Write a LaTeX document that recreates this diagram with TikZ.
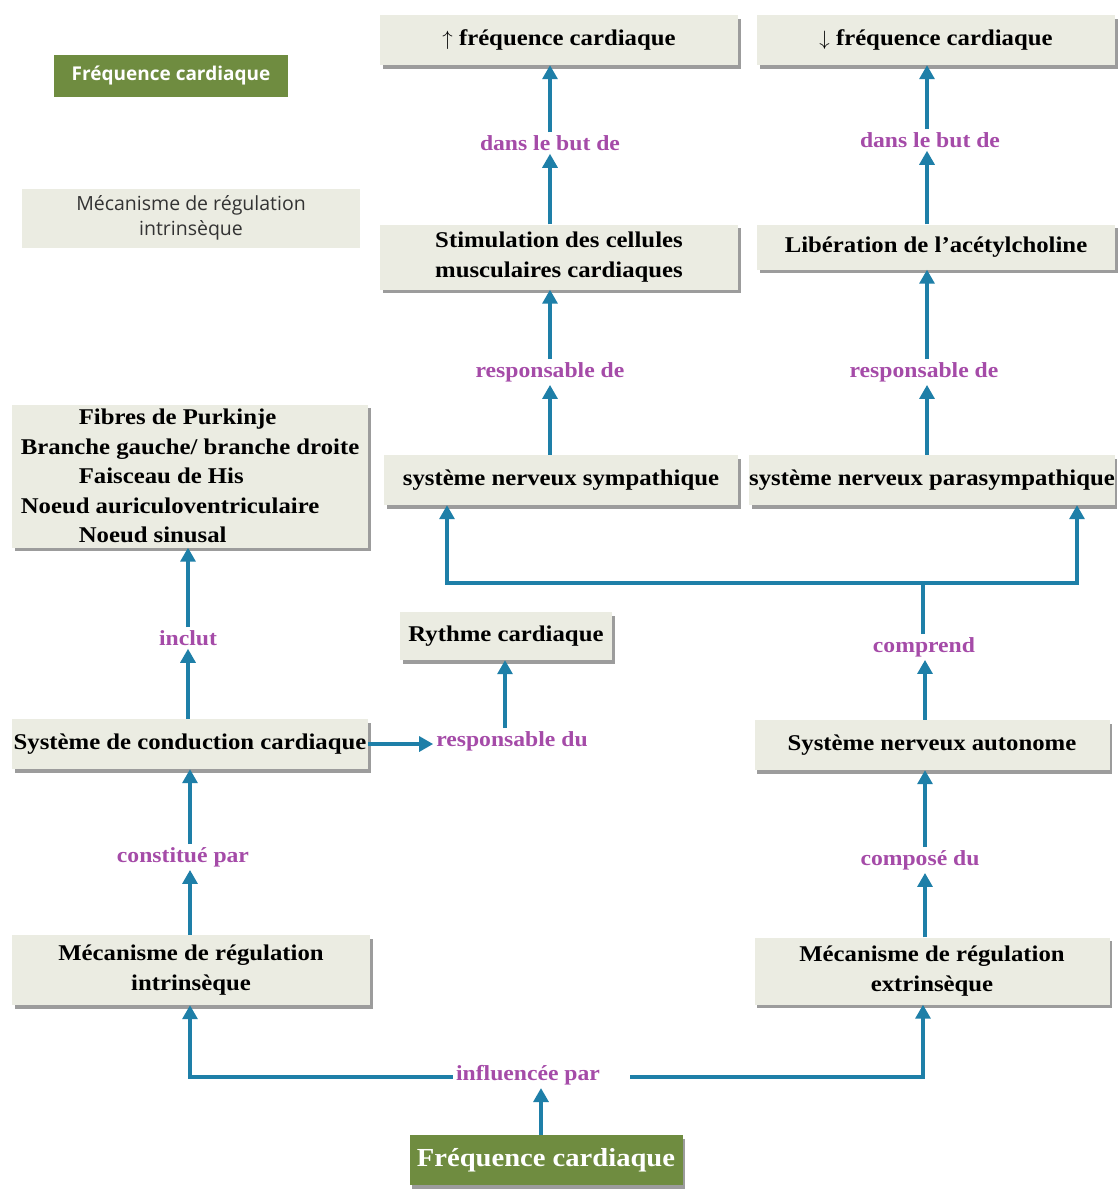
\documentclass[tikz,border=0pt]{standalone}
\usepackage{fontspec}
\setmainfont{Liberation Serif}[FakeStretch=1.1]
\newfontfamily\sansf{Open Sans}
\usetikzlibrary{arrows.meta,shadows}
\definecolor{boxfill}{HTML}{EBECE2}
\definecolor{arrcol}{HTML}{1E7FA8}
\definecolor{lblcol}{HTML}{A54BA8}
\definecolor{greenbox}{HTML}{6F8C40}
\begin{document}
\begin{tikzpicture}[x=1pt,y=-1pt,
  box/.style={fill=boxfill, inner sep=0pt, align=center,
    font=\bfseries\fontsize{22.5}{29.5}\selectfont,
    drop shadow={shadow xshift=2.5pt, shadow yshift=-3.5pt, fill=black!55, opacity=0.7}},
  lbl/.style={text=lblcol, font=\bfseries\fontsize{21.5}{24}\selectfont, inner sep=3pt},
  conn/.style={draw=arrcol, line width=3.2pt},
  arr/.style={conn, -{Triangle[width=15pt,length=14pt]}},
]
\useasboundingbox (0,0) rectangle (1118,1189);
\fill[white] (0,0) rectangle (1118,1189);

% legend boxes top-left
\node[fill=greenbox, text=white, font=\sansf\bfseries\fontsize{19}{22}\selectfont,
  minimum width=234pt, minimum height=42pt, inner sep=0pt] (legF) at (171,76) {Fréquence cardiaque};
\node[fill=boxfill, text=black!80, font=\sansf\fontsize{19.5}{25}\selectfont, align=center,
  minimum width=338pt, minimum height=59pt, inner sep=0pt] (legM) at (191,218) {Mécanisme de régulation\\intrinsèque};

% boxes
\node[box, minimum width=358pt, minimum height=50pt] (upF) at (559,40) {$\uparrow$ fréquence cardiaque};
\node[box, minimum width=358pt, minimum height=50pt] (downF) at (936,40) {$\downarrow$ fréquence cardiaque};
\node[box, minimum width=358pt, minimum height=65pt] (stim) at (559,257) {Stimulation des cellules\\musculaires cardiaques};
\node[box, minimum width=358pt, minimum height=45pt] (lib) at (936,247) {Libération de l'acétylcholine};
\node[box, minimum width=354pt, minimum height=50pt] (symp) at (561,480) {système nerveux sympathique};
\node[box, minimum width=365pt, minimum height=50pt] (para) at (932,480) {système nerveux parasympathique};
\node[box, align=left, minimum width=356pt, minimum height=143pt] (fib) at (190,476)
  {\hspace*{58pt}Fibres de Purkinje\\Branche gauche/ branche droite\\\hspace*{58pt}Faisceau de His\\Noeud auriculoventriculaire\\\hspace*{58pt}Noeud sinusal};
\node[box, minimum width=212pt, minimum height=48pt] (ryt) at (506,636) {Rythme cardiaque};
\node[box, minimum width=356pt, minimum height=50pt] (cond) at (190,744) {Système de conduction cardiaque};
\node[box, minimum width=355pt, minimum height=50pt] (sna) at (932,745) {Système nerveux autonome};
\node[box, minimum width=358pt, minimum height=70pt] (intr) at (191,970) {Mécanisme de régulation\\intrinsèque};
\node[box, minimum width=355pt, minimum height=67pt] (extr) at (932,971) {Mécanisme de régulation\\extrinsèque};
\node[fill=greenbox, text=white, inner sep=0pt, minimum width=273pt, minimum height=50pt,
  font=\bfseries\fontsize{26}{30}\selectfont,
  drop shadow={shadow xshift=2.5pt, shadow yshift=-3.5pt, fill=black!55, opacity=0.7}] (freq) at (546,1160) {Fréquence cardiaque};

% labels
\node[lbl] (l1) at (550,143) {dans le but de};
\node[lbl] (l2) at (930,140) {dans le but de};
\node[lbl] (l3) at (550,372) {responsable de};
\node[lbl] (l4) at (924,372) {responsable de};
\node[lbl] (l5) at (924,647) {comprend};
\node[lbl] (l6) at (188,638) {inclut};
\node[lbl] (l7) at (512,741) {responsable du};
\node[lbl] (l8) at (183,857) {constitué par};
\node[lbl] (l9) at (920,860) {composé du};
\node[lbl] (l10) at (528,1075) {influencée par};

% arrows upper column left
\draw[arr] (l1.north) -- (l1.north |- upF.south);
\draw[arr] (l1.south |- stim.north) -- (l1.south);
\draw[arr] (l3.north) -- (l3.north |- stim.south);
\draw[arr] (l3.south |- symp.north) -- (l3.south);
% right column
\draw[arr] (l2.north -| 927,0) -- (927,0 |- downF.south);
\draw[arr] (927,0 |- lib.north) -- (927,0 |- l2.south);
\draw[arr] (927,0 |- l4.north) -- (927,0 |- lib.south);
\draw[arr] (927,0 |- para.north) -- (927,0 |- l4.south);

% bracket
\coordinate (bm) at (923,583);
\coordinate (bl) at (447,583);
\coordinate (brr) at (1077,583);
\draw[conn] (923,0 |- l5.north) -- (bm);
\draw[conn, line cap=rect] (bl) -- (brr);
\draw[arr] (bl) -- (bl |- symp.south);
\draw[arr] (brr) -- (brr |- para.south);
\draw[arr] (925,0 |- sna.north) -- (925,0 |- l5.south);
\draw[arr] (925,0 |- l9.north) -- (925,0 |- sna.south);
\draw[arr] (925,0 |- extr.north) -- (925,0 |- l9.south);

% left column
\draw[arr] (l6.north) -- (l6.north |- fib.south);
\draw[arr] (l6.south |- cond.north) -- (l6.south);
\draw[arr] (190,0 |- l8.north) -- (190,0 |- cond.south);
\draw[arr] (190,0 |- intr.north) -- (190,0 |- l8.south);
\draw[arr] (cond.east) -- (cond.east -| l7.west);
\draw[arr] (505,0 |- l7.north) -- (505,0 |- ryt.south);

% bottom
\coordinate (il) at (190,1077);
\coordinate (ir) at (923,1077);
\draw[arr] (l10.west |- il) -- (il) -- (il |- intr.south);
\draw[arr] (630,1077) -- (ir) -- (ir |- extr.south);
\draw[arr] (541,0 |- freq.north) -- (541,0 |- l10.south);
\end{tikzpicture}
\end{document}
